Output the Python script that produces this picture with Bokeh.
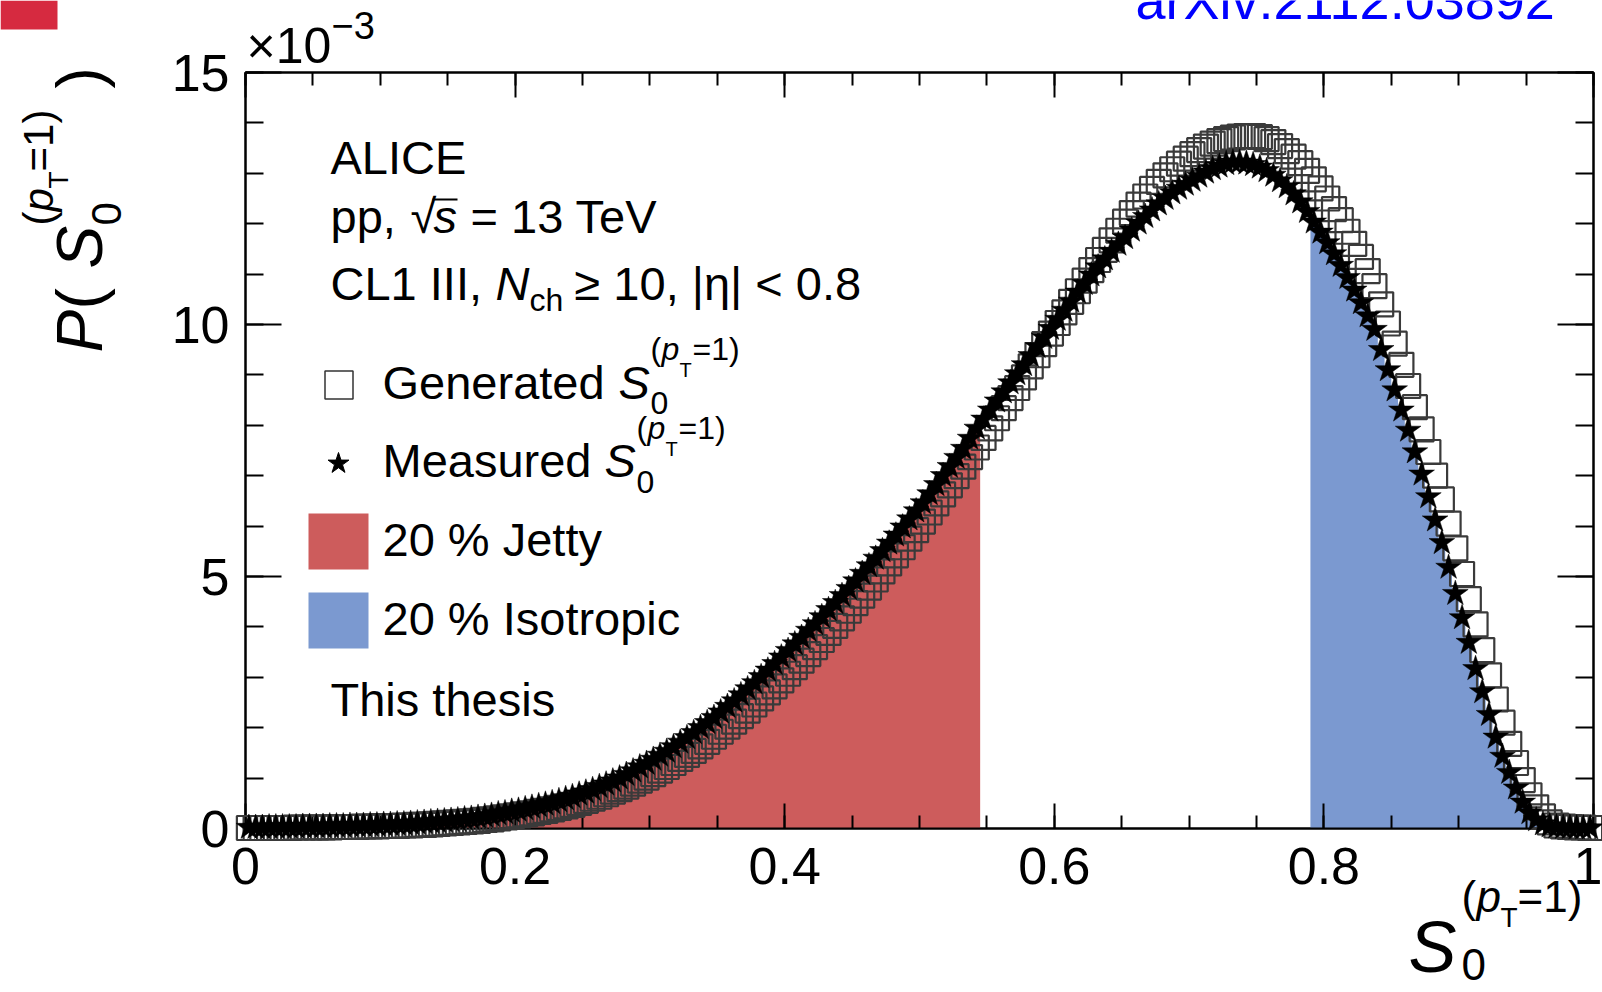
import numpy as np
from math import pi
from bokeh.plotting import figure
from bokeh.models import (Range1d, LinearAxis, FixedTicker, Label, BoxAnnotation,
                          CustomJSTickFormatter, GridBox)
from bokeh.embed import file_html
from bokeh.resources import INLINE

# ---------------- data (probability per bin, in units of 1e-3) ----------------
n_bins = 200
bin_edges = np.linspace(0.0, 1.0, n_bins + 1)

measured = [
    0.02, 0.02, 0.02, 0.03, 0.03, 0.03, 0.03, 0.03, 0.04, 0.04, 0.04, 0.04, 0.05, 0.05, 0.05, 0.06, 0.06, 0.06, 0.07, 0.07,
    0.08, 0.08, 0.09, 0.09, 0.10, 0.11, 0.12, 0.13, 0.14, 0.15, 0.16, 0.17, 0.19, 0.20, 0.22, 0.24, 0.26, 0.29, 0.31, 0.34,
    0.36, 0.39, 0.42, 0.45, 0.48, 0.51, 0.55, 0.59, 0.63, 0.68, 0.72, 0.77, 0.83, 0.88, 0.94, 1.00, 1.07, 1.14, 1.22, 1.29,
    1.37, 1.45, 1.53, 1.62, 1.71, 1.80, 1.90, 2.00, 2.10, 2.20, 2.31, 2.42, 2.53, 2.65, 2.77, 2.89, 3.01, 3.14, 3.27, 3.40,
    3.53, 3.66, 3.79, 3.93, 4.06, 4.20, 4.34, 4.48, 4.62, 4.76, 4.91, 5.06, 5.21, 5.36, 5.51, 5.66, 5.82, 5.98, 6.14, 6.30,
    6.46, 6.64, 6.82, 7.00, 7.18, 7.36, 7.54, 7.74, 7.94, 8.12, 8.30, 8.48, 8.66, 8.84, 9.02, 9.20, 9.38, 9.56, 9.74, 9.92,
    10.10, 10.28, 10.46, 10.64, 10.81, 10.98, 11.14, 11.30, 11.45, 11.59, 11.72, 11.87, 12.01, 12.14, 12.27, 12.39, 12.50, 12.61, 12.70, 12.78,
    12.86, 12.94, 13.02, 13.09, 13.14, 13.19, 13.22, 13.22, 13.20, 13.17, 13.12, 13.05, 12.96, 12.85, 12.73, 12.59, 12.43, 12.24, 12.03, 11.83,
    11.62, 11.40, 11.17, 10.93, 10.68, 10.43, 10.17, 9.90, 9.50, 9.10, 8.70, 8.30, 7.90, 7.47, 7.03, 6.58, 6.12, 5.67, 5.18, 4.66,
    4.18, 3.69, 3.17, 2.71, 2.26, 1.81, 1.43, 1.11, 0.80, 0.52, 0.31, 0.17, 0.09, 0.05, 0.03, 0.02, 0.02, 0.01, 0.01, 0.01,
]

generated = [
    0.01, 0.01, 0.01, 0.01, 0.01, 0.01, 0.01, 0.02, 0.02, 0.02, 0.02, 0.02, 0.02, 0.03, 0.03, 0.03, 0.03, 0.04, 0.04, 0.04,
    0.05, 0.05, 0.05, 0.06, 0.06, 0.07, 0.07, 0.08, 0.09, 0.10, 0.11, 0.12, 0.13, 0.14, 0.15, 0.17, 0.18, 0.20, 0.22, 0.24,
    0.26, 0.28, 0.30, 0.33, 0.35, 0.38, 0.41, 0.44, 0.47, 0.51, 0.55, 0.59, 0.63, 0.68, 0.73, 0.78, 0.83, 0.89, 0.95, 1.01,
    1.08, 1.15, 1.22, 1.30, 1.38, 1.46, 1.54, 1.63, 1.72, 1.82, 1.92, 2.02, 2.12, 2.23, 2.34, 2.46, 2.58, 2.70, 2.82, 2.94,
    3.07, 3.20, 3.33, 3.46, 3.60, 3.74, 3.88, 4.02, 4.17, 4.32, 4.47, 4.62, 4.78, 4.94, 5.10, 5.26, 5.42, 5.58, 5.75, 5.92,
    6.09, 6.27, 6.45, 6.63, 6.81, 6.99, 7.18, 7.37, 7.56, 7.75, 7.94, 8.14, 8.34, 8.54, 8.74, 8.95, 9.17, 9.39, 9.61, 9.82,
    10.03, 10.24, 10.45, 10.66, 10.87, 11.08, 11.28, 11.48, 11.67, 11.86, 12.04, 12.21, 12.38, 12.54, 12.69, 12.83, 12.96, 13.08, 13.19, 13.29,
    13.38, 13.46, 13.53, 13.59, 13.64, 13.68, 13.71, 13.73, 13.74, 13.74, 13.72, 13.68, 13.62, 13.54, 13.44, 13.33, 13.20, 13.05, 12.88, 12.70,
    12.50, 12.29, 12.07, 11.84, 11.60, 11.34, 11.06, 10.76, 10.40, 10.02, 9.62, 9.20, 8.78, 8.36, 7.92, 7.47, 7.00, 6.53, 6.05, 5.56,
    5.05, 4.55, 4.05, 3.54, 3.04, 2.56, 2.10, 1.68, 1.30, 0.96, 0.66, 0.42, 0.24, 0.12, 0.06, 0.04, 0.03, 0.02, 0.02, 0.01,
]

jetty_upper_edge = 0.545      # 20 % jetty: S0 below this
isotropic_lower_edge = 0.79   # 20 % isotropic: S0 above this

x_ticks = [0.0, 0.2, 0.4, 0.6, 0.8, 1.0]
x_tick_labels = ["0", "0.2", "0.4", "0.6", "0.8", "1"]
x_minor = [round(i * 0.05, 2) for i in range(21)]
y_ticks = [0.0, 0.005, 0.010, 0.015]
y_tick_labels = ["0", "5", "10", "15"]
y_minor = [round(i * 0.001, 3) for i in range(16)]

# ---------------- derived ----------------
SCALE = 1e-3
edges = np.asarray(bin_edges)
lefts, rights = edges[:-1], edges[1:]
centers = 0.5 * (lefts + rights)
meas = np.asarray(measured) * SCALE
gen = np.asarray(generated) * SCALE

jet = rights <= jetty_upper_edge + 1e-9
iso = lefts >= isotropic_lower_edge - 1e-9


def step_polygon(mask):
    l, r, v = lefts[mask], rights[mask], meas[mask]
    xs = [l[0]]
    ys = [0.0]
    for a, b, h in zip(l, r, v):
        xs += [a, b]
        ys += [h, h]
    xs.append(r[-1])
    ys.append(0.0)
    return xs, ys


FONT = "Liberation Sans"
W, H = 1602, 992
FL, FR, FT, FB = 245, 1593, 72, 828   # frame edges in canvas px

p = figure(width=W, height=H, x_range=Range1d(0, 1), y_range=Range1d(0, 0.015),
           output_backend="svg", toolbar_location=None,
           x_axis_type=None, y_axis_type=None,
           min_border_left=FL, min_border_right=W - FR, min_border_top=FT,
           min_border_bottom=H - FB)
p.xgrid.visible = False
p.ygrid.visible = False
p.outline_line_color = "black"
p.outline_line_width = 2
p.background_fill_color = "white"
p.border_fill_color = "white"


def make_axis(ticks, minor, labels, major_in, minor_in, show):
    ax = LinearAxis(ticker=FixedTicker(ticks=ticks, minor_ticks=minor))
    ax.major_tick_in = major_in
    ax.major_tick_out = 0
    ax.minor_tick_in = minor_in
    ax.minor_tick_out = 0
    ax.axis_line_width = 2
    ax.major_tick_line_width = 2
    ax.minor_tick_line_width = 2
    ax.axis_line_color = "black"
    ax.major_tick_line_color = "black"
    ax.minor_tick_line_color = "black"
    if show:
        ax.formatter = CustomJSTickFormatter(
            args=dict(tvals=ticks, tlabs=labels),
            code="const i = tvals.findIndex(t => Math.abs(t - tick) < 1e-9); return i >= 0 ? tlabs[i] : '';")
        ax.major_label_text_font = FONT
        ax.major_label_text_font_size = "52px"
        ax.major_label_text_color = "black"
    else:
        ax.formatter = CustomJSTickFormatter(code="return '';")
        ax.major_label_standoff = 0
        ax.major_label_text_font_size = "1px"
    return ax


xb = make_axis(x_ticks, x_minor, x_tick_labels, 25, 13, True)
xb.major_label_standoff = 19
yl = make_axis(y_ticks, y_minor, y_tick_labels, 36, 18, True)
yl.major_label_standoff = 16
xt = make_axis(x_ticks, x_minor, x_tick_labels, 25, 13, False)
yr = make_axis(y_ticks, y_minor, y_tick_labels, 36, 18, False)
p.add_layout(xb, "below")
p.add_layout(yl, "left")
p.add_layout(xt, "above")
p.add_layout(yr, "right")

RED = "#cd5c5c"
BLUE = "#7b99d0"

# filled 20 % regions (step histogram of measured distribution)
jx, jy = step_polygon(jet)
p.patch(jx, jy, fill_color=RED, line_color=None)
ix, iy = step_polygon(iso)
p.patch(ix, iy, fill_color=BLUE, line_color=None)

# generated: open squares
r_gen = p.scatter(centers, gen, marker="square", size=24, fill_alpha=0,
                  line_color="#3a3a3a", line_width=2.2)
# measured: stars
r_meas = p.scatter(centers, meas, marker="star", size=27, fill_color="black",
                   line_color="black", line_width=0.5)
r_gen.level = "overlay"
r_meas.level = "overlay"

# ---------------- overlay canvas for all free texts (canvas px coordinates) ----------------
ov = figure(width=W, height=H, x_range=Range1d(0, W), y_range=Range1d(H, 0),
            output_backend="svg", toolbar_location=None,
            x_axis_type=None, y_axis_type=None, min_border=0)
ov.outline_line_color = None
ov.background_fill_alpha = 0
ov.border_fill_alpha = 0
ov.xgrid.visible = False
ov.ygrid.visible = False

for fig in (p, ov):
    if "frame_align" in fig.properties():
        fig.frame_align = False

SHIFT = 0.41  # label anchor correction (in em) so that Y is the text baseline


def T(X, Y, text, size, style="normal", color="black", rot=False):
    if rot:
        X = X - SHIFT * size
    else:
        Y = Y - SHIFT * size
    ov.add_layout(Label(x=X, y=Y, text=text, text_font=FONT, text_font_size=f"{size}px",
                        text_font_style=style, text_color=color,
                        text_align="left", text_baseline="alphabetic",
                        angle=pi / 2 if rot else 0.0))


def B(X0, X1, Y0, Y1, fill=None, line=None, lw=1.5):
    ov.add_layout(BoxAnnotation(left=X0, right=X1, top=Y0, bottom=Y1,
                                fill_color=fill, fill_alpha=1.0 if fill else 0.0,
                                line_color=line, line_width=lw, line_alpha=1.0 if line else 0.0))


# corner decorations
B(0, 57, 0, 29, fill="#d62a40")
T(1135, 22, "arXiv:2112.03892", 54, color="#0000ff")

# exponent of y axis
T(246, 66, "\u00d710", 50)
T(331, 41, "\u22123", 38)

# y-axis title (rotated)
T(106, 352, "P", 64, "italic", rot=True)
T(106, 309, "(", 64, rot=True)
T(106, 268, "S", 64, "italic", rot=True)
T(123, 225, "0", 42, rot=True)
T(55, 225, "(", 42, rot=True)
T(55, 211, "p", 42, "italic", rot=True)
T(69, 188, "T", 28, rot=True)
T(55, 171, "=1)", 42, rot=True)
T(106, 88, ")", 64, rot=True)

# x-axis title
T(1408, 976, "S", 72, "italic")
T(1461, 982, "0", 44)
T(1461, 914, "(", 44)
T(1476, 914, "p", 44, "italic")
T(1500, 928, "T", 28)
T(1517, 914, "=1)", 44)

# text block
T(330, 176, "ALICE", 47)
T(330, 235, "pp,", 47)
T(410, 235, "\u221a", 47)
T(433, 235, "s", 47, "italic")
B(432, 457, 198, 200, fill="black")
T(470, 235, "= 13 TeV", 47)
T(330, 302, "CL1 III,", 47)
T(495, 302, "N", 47, "italic")
T(529, 313, "ch", 32)
T(574, 302, "\u2265 10, |\u03b7| < 0.8", 47)

# legend
ov.scatter([338.5], [384.5], marker="square", size=28, fill_alpha=0,
           line_color="#333333", line_width=1.5)
T(382, 401, "Generated", 47)
T(618, 401, "S", 47, "italic")
T(650, 416, "0", 32)
T(650, 362, "(", 32)
T(661, 362, "p", 32, "italic")
T(679, 378, "T", 20)
T(692, 362, "=1)", 32)

ov.scatter([338], [463], marker="star", size=22, fill_color="black", line_color="black")
T(382, 479, "Measured", 47)
T(604, 479, "S", 47, "italic")
T(636, 495, "0", 32)
T(636, 441, "(", 32)
T(647, 441, "p", 32, "italic")
T(665, 457, "T", 20)
T(678, 441, "=1)", 32)

B(308, 368, 513, 569, fill=RED)
T(382, 558, "20 % Jetty", 47)
B(308, 368, 592, 648, fill=BLUE)
T(382, 637, "20 % Isotropic", 47)
T(330, 718, "This thesis", 47)

layout = GridBox(children=[(p, 0, 0), (ov, 0, 0)])
open("out.html", "w").write(file_html(layout, INLINE))
